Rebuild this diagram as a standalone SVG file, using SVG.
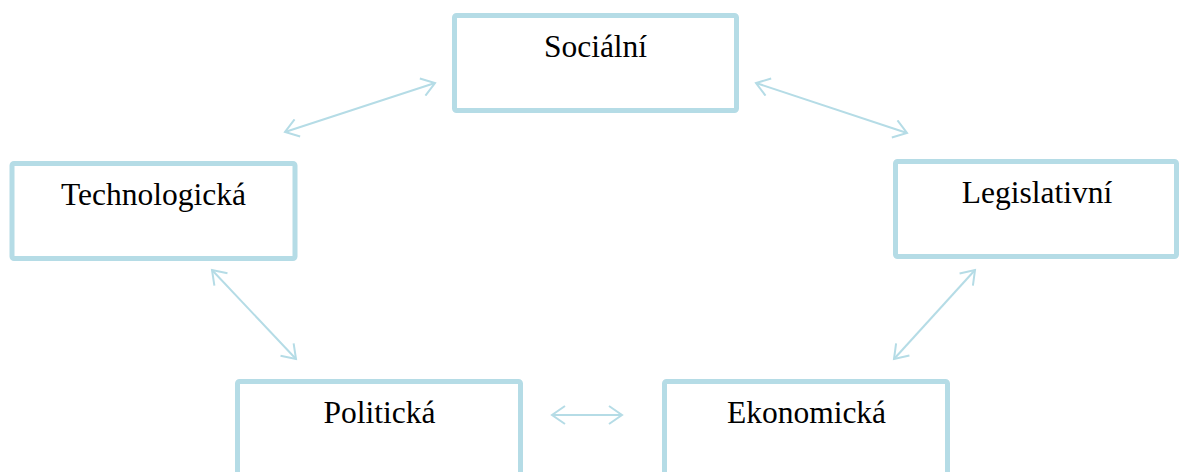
<svg xmlns="http://www.w3.org/2000/svg" width="1179" height="472" viewBox="0 0 1179 472">
<style>
.box{fill:#fff;stroke:#b5dce6;stroke-width:5}
.lbl{font-family:"Liberation Serif","Times New Roman",serif;font-size:31.5px;fill:#000;text-anchor:middle}
.con{stroke:#b5dce6;stroke-width:2;fill:none;marker-start:url(#ah);marker-end:url(#ah)}
</style>
<defs>
<marker id="ah" markerUnits="userSpaceOnUse" viewBox="-16 -10 20 20" refX="0" refY="0" markerWidth="20" markerHeight="20" orient="auto-start-reverse">
<path d="M-13,-9 L0,0 L-13,9" fill="none" stroke="#b5dce6" stroke-width="2"/>
</marker>
</defs>
<rect width="1179" height="472" fill="#fff"/>
<g id="connectors">
<line class="con" x1="285" y1="132" x2="435" y2="83"/>
<line class="con" x1="756" y1="83" x2="907" y2="133"/>
<line class="con" x1="212" y1="270" x2="296" y2="359"/>
<line class="con" x1="975" y1="270" x2="894" y2="359"/>
<line class="con" x1="552" y1="415" x2="622" y2="415"/>
</g>
<g id="socialni">
<rect class="box" x="454.5" y="15.5" width="282" height="95" rx="2"/>
<text class="lbl" x="595.5" y="57">Sociální</text>
</g>
<g id="technologicka">
<rect class="box" x="12" y="163.5" width="283" height="95" rx="2"/>
<text class="lbl" x="153.5" y="205">Technologická</text>
</g>
<g id="legislativni">
<rect class="box" x="895.5" y="161.5" width="281" height="95" rx="2"/>
<text class="lbl" x="1037" y="203">Legislativní</text>
</g>
<g id="politicka">
<rect class="box" x="237.5" y="381.5" width="283" height="95" rx="2"/>
<text class="lbl" x="379.5" y="423">Politická</text>
</g>
<g id="ekonomicka">
<rect class="box" x="664.5" y="381.5" width="283" height="95" rx="2"/>
<text class="lbl" x="806.5" y="423">Ekonomická</text>
</g>
</svg>
